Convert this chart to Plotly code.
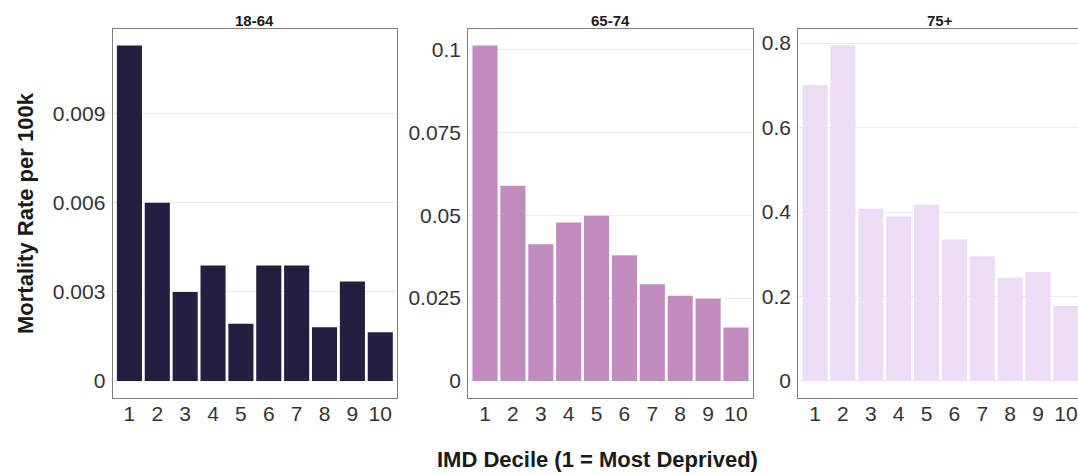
import plotly.graph_objects as go

# IMD deciles and mortality rates per age band
deciles = [1, 2, 3, 4, 5, 6, 7, 8, 9, 10]
decile_labels = ["1", "2", "3", "4", "5", "6", "7", "8", "9", "10"]

age_groups = ["18-64", "65-74", "75+"]
rate_18_64 = [0.01131, 0.00601, 0.00300, 0.00389, 0.00193, 0.00389, 0.00389, 0.00181, 0.00335, 0.00164]
rate_65_74 = [0.1012, 0.0589, 0.0412, 0.0478, 0.0498, 0.0379, 0.0292, 0.0257, 0.0248, 0.0161]
rate_75_plus = [0.7007, 0.7943, 0.4076, 0.3894, 0.4170, 0.3350, 0.2955, 0.2444, 0.2577, 0.1773]

ytick_vals_18_64 = [0, 0.003, 0.006, 0.009]
ytick_text_18_64 = ["0", "0.003", "0.006", "0.009"]
ytick_vals_65_74 = [0, 0.025, 0.05, 0.075, 0.1]
ytick_text_65_74 = ["0", "0.025", "0.05", "0.075", "0.1"]
ytick_vals_75_plus = [0, 0.2, 0.4, 0.6, 0.8]
ytick_text_75_plus = ["0", "0.2", "0.4", "0.6", "0.8"]

bar_colors = ["#231f40", "#c28bbf", "#ecdcf6"]

W, H = 1078, 475
FONT = "Liberation Sans, Arial, sans-serif"

# panel geometry in pixels (left, right); the last panel runs off the right edge
panels_px = [(112.7, 397.0), (468.3, 752.7), (798.3, 1082.6)]
top_px, bottom_px = 28.7, 397.7

series = [rate_18_64, rate_65_74, rate_75_plus]
ticks = [(ytick_vals_18_64, ytick_text_18_64),
         (ytick_vals_65_74, ytick_text_65_74),
         (ytick_vals_75_plus, ytick_text_75_plus)]

fig = go.Figure()
annotations = []

for i, (vals, (tv, tt), col, name) in enumerate(zip(series, ticks, bar_colors, age_groups)):
    n = i + 1
    xa = "x" if n == 1 else f"x{n}"
    ya = "y" if n == 1 else f"y{n}"
    fig.add_trace(go.Bar(
        x=deciles, y=vals, width=0.9,
        marker=dict(color=col, line=dict(width=0)),
        xaxis=xa, yaxis=ya, showlegend=False, name=name,
    ))

    left, right = panels_px[i]
    x_lo, x_hi = 0.4, 10.6
    vis_right = min(right, W)
    if right > W:
        x_hi = x_lo + (x_hi - x_lo) * (vis_right - left) / (right - left)

    vmax = max(vals)
    xkey = "xaxis" if n == 1 else f"xaxis{n}"
    ykey = "yaxis" if n == 1 else f"yaxis{n}"
    fig.update_layout(**{
        xkey: dict(
            domain=[left / W, vis_right / W], anchor=ya,
            range=[x_lo, x_hi], tickmode="array",
            tickvals=deciles, ticktext=decile_labels,
            showgrid=False, zeroline=False, ticks="",
            showline=True, linecolor="#7f7f7f", linewidth=1.3, mirror=True,
            tickfont=dict(family=FONT, size=21, color="#333333"),
            ticklabelstandoff=-3,
        ),
        ykey: dict(
            domain=[1 - bottom_px / H, 1 - top_px / H], anchor=xa,
            range=[-0.05 * vmax, 1.05 * vmax], tickmode="array",
            tickvals=tv, ticktext=tt,
            showgrid=True, gridcolor="#ebebeb", gridwidth=1,
            zeroline=False, ticks="",
            showline=True, linecolor="#7f7f7f", linewidth=1.3,
            mirror=(right <= W),
            tickfont=dict(family=FONT, size=21, color="#333333"),
            ticklabelstandoff=2,
        ),
    })

    annotations.append(dict(
        text=f"<b>{name}</b>", x=(left + right) / 2 / W, y=1 - 20 / H,
        xref="paper", yref="paper", showarrow=False,
        xanchor="center", yanchor="middle",
        font=dict(family=FONT, size=15, color="#1a1a1a"),
    ))

annotations.append(dict(
    text="<b>Mortality Rate per 100k</b>", x=25 / W, y=1 - 213 / H,
    xref="paper", yref="paper", showarrow=False, textangle=-90,
    xanchor="center", yanchor="middle",
    font=dict(family=FONT, size=22, color="#1a1a1a"),
))
annotations.append(dict(
    text="<b>IMD Decile (1 = Most Deprived)</b>", x=597 / W, y=1 - 459 / H,
    xref="paper", yref="paper", showarrow=False,
    xanchor="center", yanchor="middle",
    font=dict(family=FONT, size=22, color="#1a1a1a"),
))

fig.update_layout(
    width=W, height=H,
    margin=dict(l=0, r=0, t=0, b=0),
    paper_bgcolor="white", plot_bgcolor="white",
    annotations=annotations,
    bargap=0.1,
)

fig.write_html("out.html", config={"displayModeBar": False})
